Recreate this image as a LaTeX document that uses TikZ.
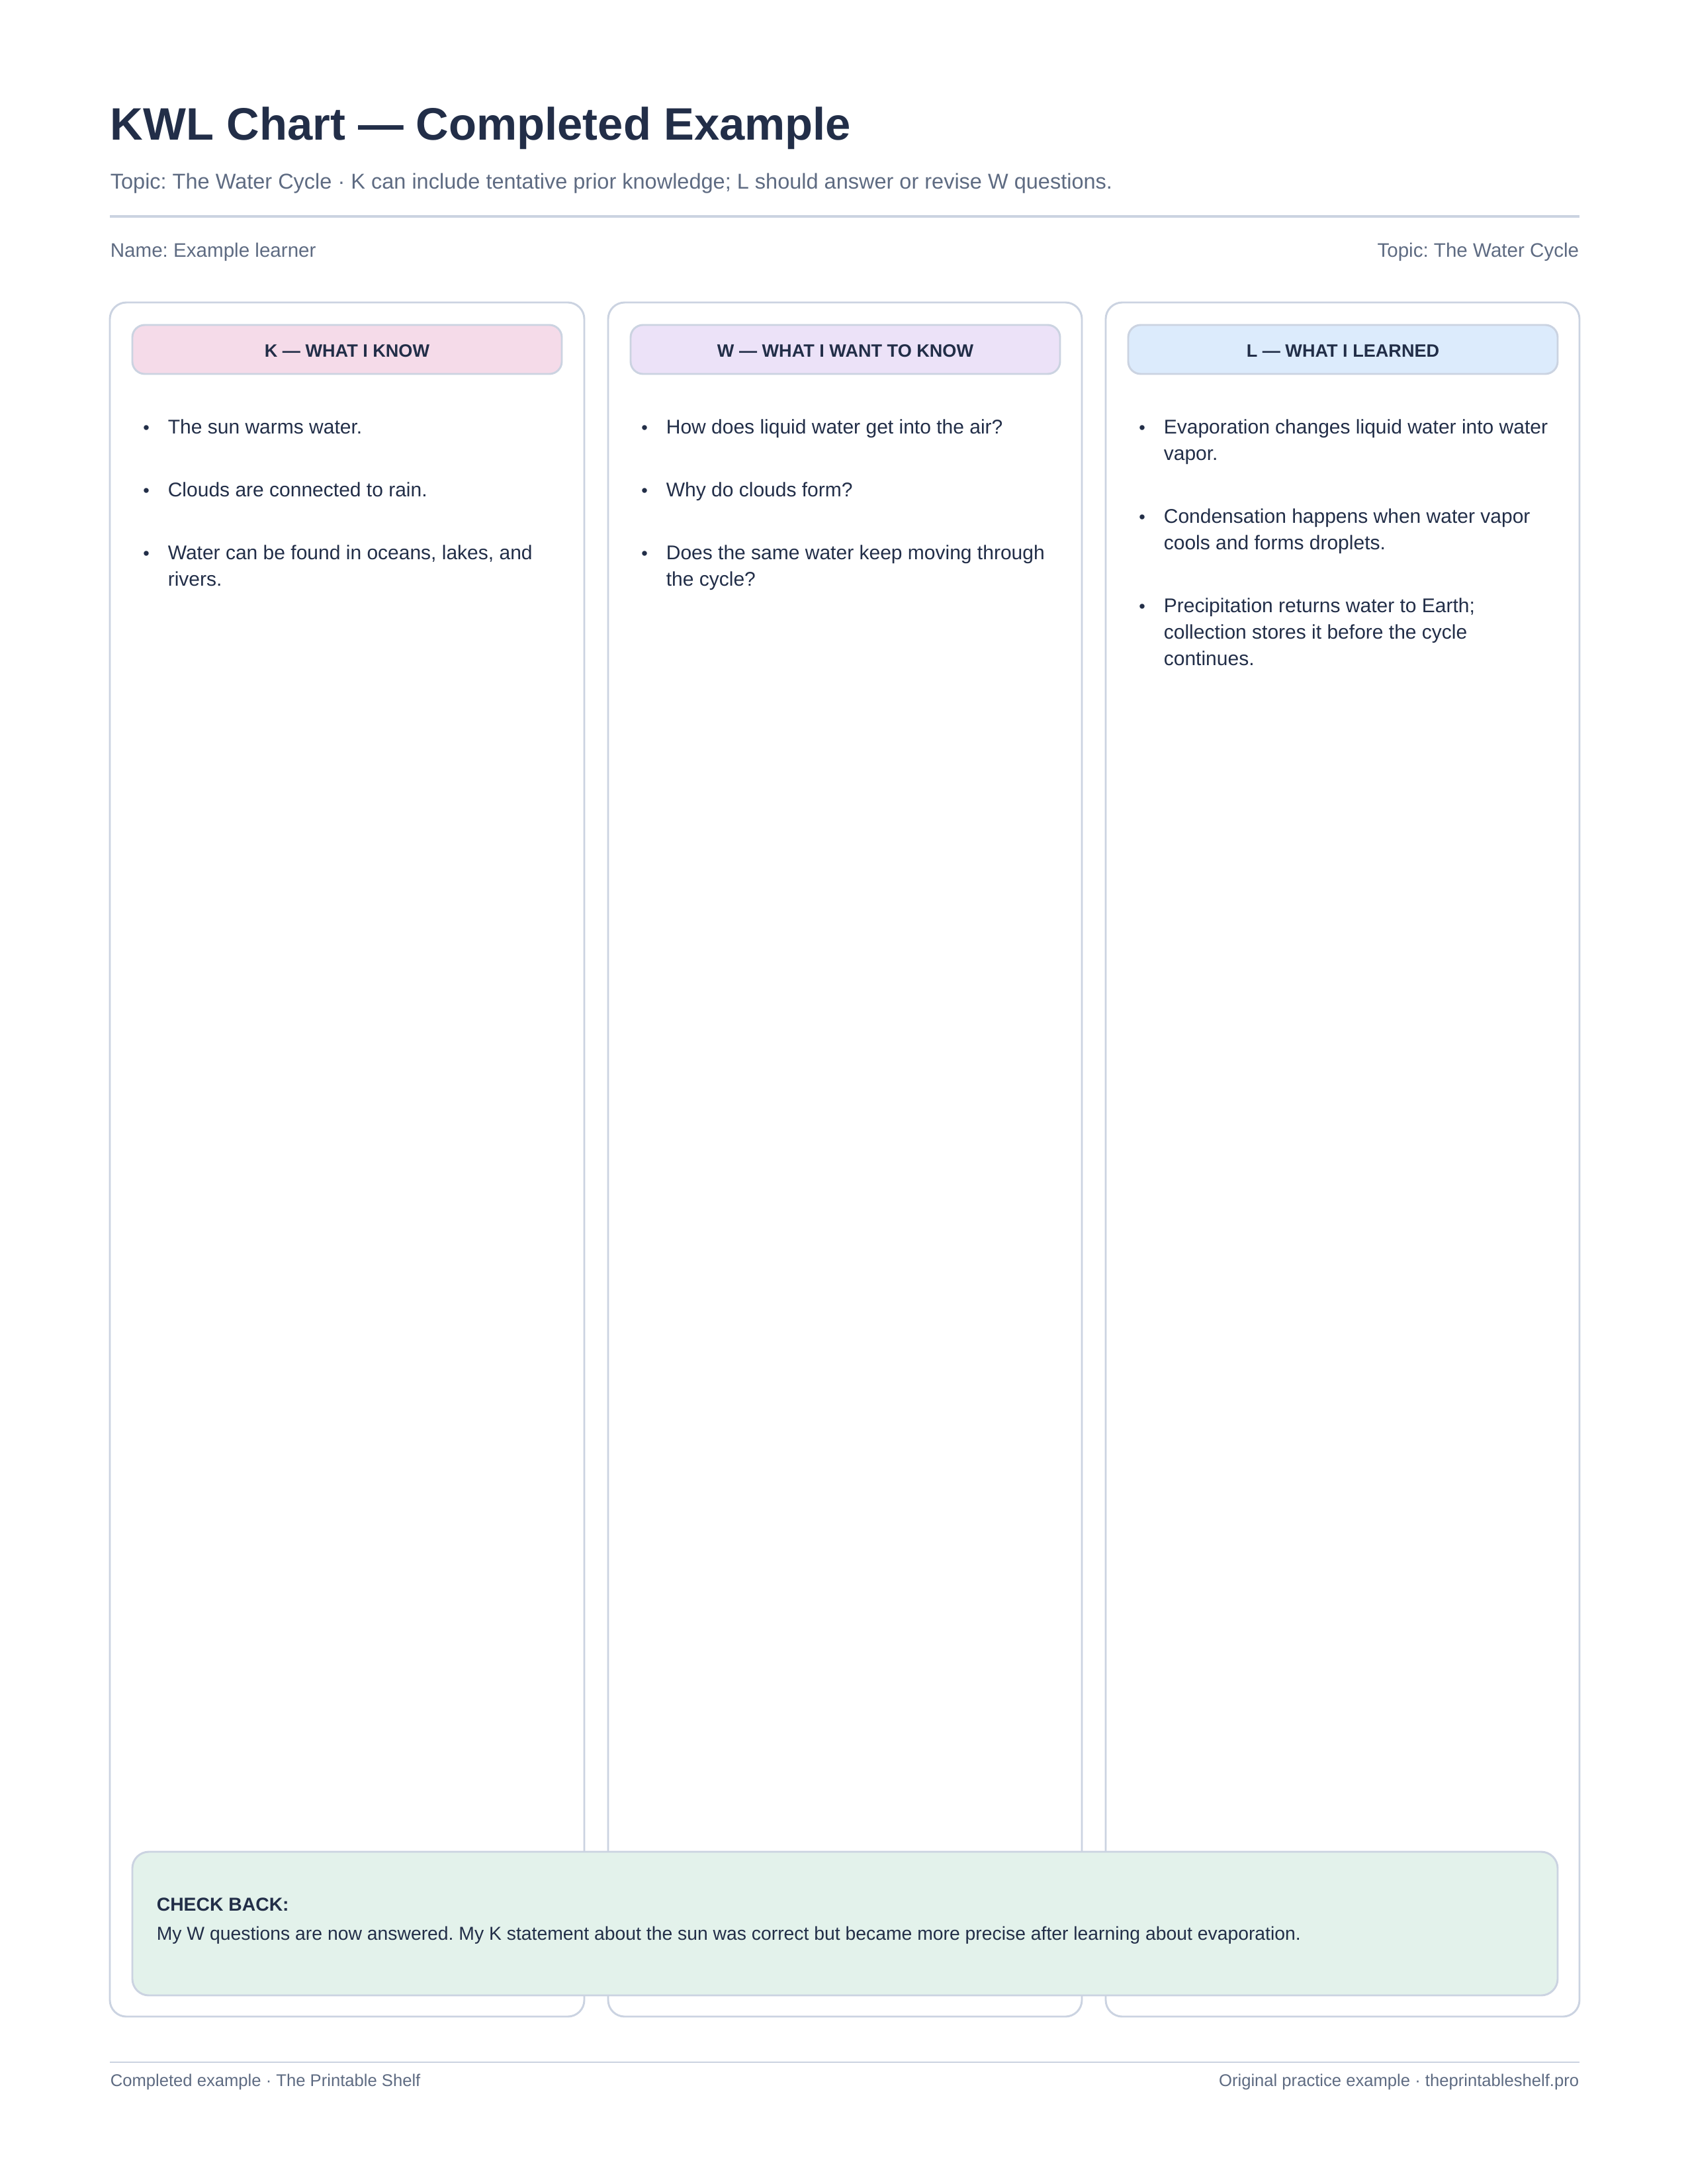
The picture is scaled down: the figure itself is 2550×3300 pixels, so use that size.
\documentclass[tikz,border=0pt]{standalone}
\usepackage{fontspec}
\setmainfont{Liberation Sans}
\frenchspacing
\definecolor{ink}{HTML}{222E48}
\definecolor{muted}{HTML}{5E6B82}
\definecolor{bord}{HTML}{CBD3E1}
\definecolor{pinkf}{HTML}{F5DBE9}
\definecolor{lavf}{HTML}{ECE2F8}
\definecolor{bluef}{HTML}{DCEBFC}
\definecolor{greenf}{HTML}{E3F2EB}
\begin{document}
\begin{tikzpicture}[x=0.24pt,y=-0.24pt,
  col/.style={draw=bord,line width=0.7pt,rounded corners=6pt,fill=white},
  head/.style={draw=bord,line width=0.7pt,rounded corners=4.5pt},
  htext/.style={anchor=base,text=ink,font=\fontsize{6.5}{8}\selectfont\bfseries},
  item/.style={anchor=base west,text=ink,font=\fontsize{7.2}{9.6}\selectfont,inner sep=0pt},
  bul/.style={anchor=base,text=ink,font=\fontsize{6.5}{8}\selectfont,inner sep=0pt},
  meta/.style={text=muted,inner sep=0pt}]
\useasboundingbox (0,0) rectangle (2550,3300);
\fill[white] (0,0) rectangle (2550,3300);
\node[anchor=base west,text=ink,font=\fontsize{16.5}{20}\selectfont\bfseries,inner sep=0pt] (title) at (166,211) {KWL Chart — Completed Example};
\node[anchor=base west,meta,font=\fontsize{7.8}{10}\selectfont] (sub) at (166,285) {Topic: The Water Cycle · K can include tentative prior knowledge; L should answer or revise W questions.};
\draw[bord,line width=0.8pt] (166,327) -- (2387,327);
\node[anchor=base west,meta,font=\fontsize{7.1}{9}\selectfont] (name) at (166,388) {Name: Example learner};
\node[anchor=base east,meta,font=\fontsize{7.1}{9}\selectfont] (topic) at (2387,388) {Topic: The Water Cycle};
% columns
\draw[col] (166,457) rectangle (883,3047);
\draw[col] (919,457) rectangle (1635,3047);
\draw[col] (1671,457) rectangle (2387,3047);
\draw[head,fill=pinkf] (200,491) rectangle (849,565);
\draw[head,fill=lavf] (953,491) rectangle (1602,565);
\draw[head,fill=bluef] (1705,491) rectangle (2354,565);
\node[htext] (hk) at (524.5,539) {K — WHAT I KNOW};
\node[htext] (hw) at (1277.5,539) {W — WHAT I WANT TO KNOW};
\node[htext] (hl) at (2029.5,539) {L — WHAT I LEARNED};
% K
\foreach \y in {655,750,845} \node[bul] at (221,\y) {•};
\node[item] (k1) at (253,655) {The sun warms water.};
\node[item] (k2) at (253,750) {Clouds are connected to rain.};
\node[item] (k3) at (253,845) {Water can be found in oceans, lakes, and};
\node[item] (k3b) at (253,885) {rivers.};
% W
\foreach \y in {655,750,845} \node[bul] at (974,\y) {•};
\node[item] (w1) at (1006,655) {How does liquid water get into the air?};
\node[item] (w2) at (1006,750) {Why do clouds form?};
\node[item] (w3) at (1006,845) {Does the same water keep moving through};
\node[item] (w3b) at (1006,885) {the cycle?};
% L
\foreach \y in {655,790,925} \node[bul] at (1726,\y) {•};
\node[item] (l1) at (1758,655) {Evaporation changes liquid water into water};
\node[item] (l1b) at (1758,695) {vapor.};
\node[item] (l2) at (1758,790) {Condensation happens when water vapor};
\node[item] (l2b) at (1758,830) {cools and forms droplets.};
\node[item] (l3) at (1758,925) {Precipitation returns water to Earth;};
\node[item] (l3b) at (1758,965) {collection stores it before the cycle};
\node[item] (l3c) at (1758,1005) {continues.};
% check back
\draw[head,fill=greenf,rounded corners=6pt] (200,2798) rectangle (2354,3015);
\node[anchor=base west,text=ink,font=\fontsize{6.8}{8}\selectfont\bfseries,inner sep=0pt] (cbh) at (236,2887) {CHECK BACK:};
\node[anchor=base west,text=ink,font=\fontsize{6.8}{8}\selectfont,inner sep=0pt] (cbt) at (236,2931) {My W questions are now answered. My K statement about the sun was correct but became more precise after learning about evaporation.};
% footer
\draw[bord,line width=0.6pt] (166,3116) -- (2387,3116);
\node[anchor=base west,meta,font=\fontsize{6.15}{8}\selectfont] (f1) at (166,3152) {Completed example · The Printable Shelf};
\node[anchor=base east,meta,font=\fontsize{6.15}{8}\selectfont] (f2) at (2387,3152) {Original practice example · theprintableshelf.pro};
\end{tikzpicture}
\end{document}
